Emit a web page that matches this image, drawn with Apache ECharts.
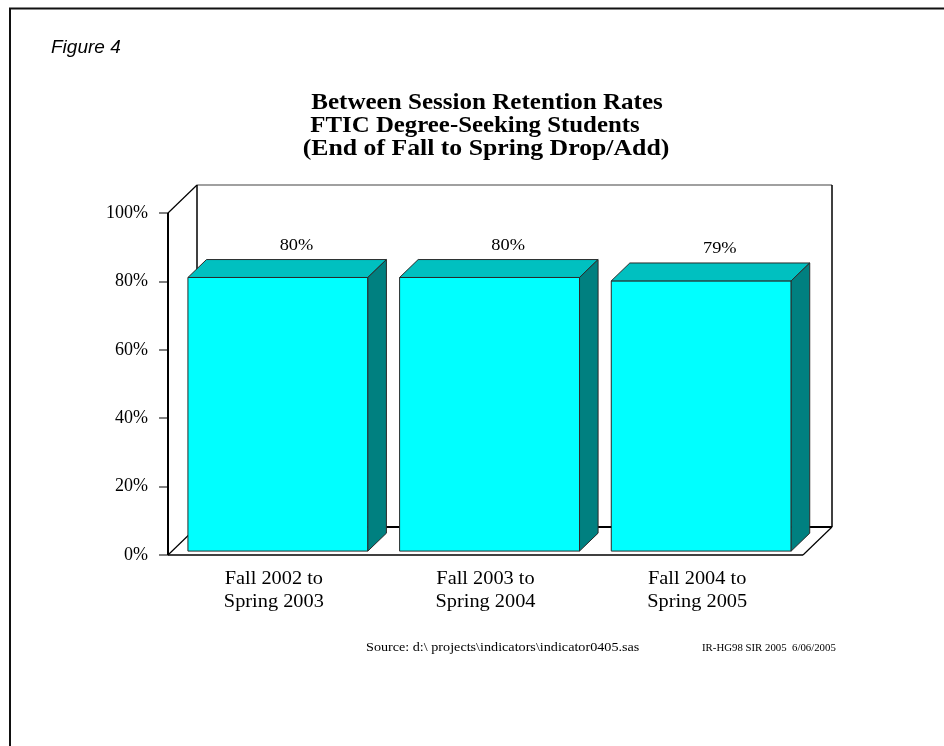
<!DOCTYPE html>
<html>
<head>
<meta charset="utf-8">
<script src="https://cdn.jsdelivr.net/npm/echarts@6/dist/echarts.min.js"></script>
<style>
  html, body { margin: 0; padding: 0; background: #fff; }
  #chart { width: 944px; height: 746px; }
</style>
</head>
<body>
<div id="chart"></div>
<script>
// Retention rates per period
const categories = ['Fall 2002 to\nSpring 2003', 'Fall 2003 to\nSpring 2004', 'Fall 2004 to\nSpring 2005'];
const retention = [80, 80, 79];
const yTicks = [0, 20, 40, 60, 80, 100];

const titleLines = ['Between Session Retention Rates', 'FTIC Degree-Seeking Students', '(End of Fall to Spring Drop/Add)'];
const figureLabel = 'Figure 4';
const sourceNote = 'Source: d:\\ projects\\indicators\\indicator0405.sas';
const stampNote = 'IR-HG98 SIR 2005  6/06/2005';

// 3D projection: depth vector of the chart box and the bar slab inside it
const DEPTH = [29, -28];
const BAR_FRONT = 0.14, BAR_BACK = 0.78;
const BAR_RATIO = 0.85;
const SERIF = '"Liberation Serif", "Times New Roman", serif';
const SANS = '"Liberation Sans", Arial, sans-serif';

const chart = echarts.init(document.getElementById('chart'), null, { renderer: 'canvas' });

function walls(params, api) {
  const band = api.size([1, 0])[0];
  const n = categories.length;
  const x0 = api.coord([0, 0])[0] - band / 2;
  const x1 = api.coord([n - 1, 0])[0] + band / 2;
  const yb = api.coord([0, 0])[1];
  const yt = api.coord([0, yTicks[yTicks.length - 1]])[1];
  const dx = DEPTH[0], dy = DEPTH[1];
  const line = (a, b, color, w) => ({
    type: 'line',
    shape: { x1: a[0], y1: a[1], x2: b[0], y2: b[1] },
    style: { stroke: color, lineWidth: w }
  });
  return {
    type: 'group',
    children: [
      line([x0 + dx, yt + dy], [x1 + dx, yt + dy], '#808080', 1.5),
      line([x0 + dx, yt + dy], [x0 + dx, yb + dy], '#000', 1.5),
      line([x1 + dx, yt + dy], [x1 + dx, yb + dy], '#000', 1.5),
      line([x0, yt], [x0 + dx, yt + dy], '#000', 1.2),
      line([x0 + dx, yb + dy], [x1 + dx, yb + dy], '#000', 2.2),
      line([x0, yb], [x0 + dx, yb + dy], '#000', 1.2),
      line([x1, yb], [x1 + dx, yb + dy], '#000', 1.2),
      line([x0, yb], [x1, yb], '#000', 1.5),
      line([x0, yt], [x0, yb], '#000', 2)
    ]
  };
}

function bar3d(params, api) {
  const idx = api.value(0);
  const val = api.value(1);
  const band = api.size([1, 0])[0];
  const w = band * BAR_RATIO;
  const top = api.coord([idx, val]);
  const base = api.coord([idx, 0]);
  const fx = DEPTH[0] * BAR_FRONT, fy = DEPTH[1] * BAR_FRONT;
  const bx = DEPTH[0] * BAR_BACK, by = DEPTH[1] * BAR_BACK;
  const l = top[0] - w / 2 + fx, r = top[0] + w / 2 + fx;
  const t = top[1] + fy, b = base[1] + fy;
  const sx = bx - fx, sy = by - fy;
  const edge = { stroke: '#2a2a2a', lineWidth: 1, lineJoin: 'round' };
  return {
    type: 'group',
    children: [
      { type: 'polygon', shape: { points: [[l, b], [r, b], [r, t], [l, t]] },
        style: Object.assign({ fill: '#00ffff' }, edge) },
      { type: 'polygon', shape: { points: [[l, t], [r, t], [r + sx, t + sy], [l + sx, t + sy]] },
        style: Object.assign({ fill: '#00c0c0' }, edge) },
      { type: 'polygon', shape: { points: [[r, t], [r, b], [r + sx, b + sy], [r + sx, t + sy]] },
        style: Object.assign({ fill: '#008080' }, edge) },
      { type: 'text', x: (l + r) / 2 + sx, y: t + sy - 14, scaleX: 1.08,
        style: { text: val + '%', align: 'center', verticalAlign: 'middle',
                 font: '17px ' + SERIF, fill: '#000' } },
      // category label under the bar
      { type: 'text', x: base[0], y: base[1] + 13, scaleX: 1.13,
        style: { text: categories[idx], align: 'center', verticalAlign: 'top',
                 font: '18px ' + SERIF, lineHeight: 23, fill: '#000' } }
    ]
  };
}

function headText(text, x, y, font, align, sx) {
  return { type: 'text', x: x, y: y, scaleX: sx, silent: true,
           style: { text: text, font: font, align: align, verticalAlign: 'middle', fill: '#000' } };
}

const titleFont = 'bold 23px ' + SERIF;

chart.setOption({
  animation: false,
  backgroundColor: '#fff',
  graphic: [
    { type: 'polyline', silent: true,
      shape: { points: [[10, 746], [10, 8.5], [944, 8.5]] },
      style: { stroke: '#111', lineWidth: 2, fill: null } },
    headText(figureLabel, 51, 48, 'italic 19px ' + SANS, 'left', 1),
    headText(titleLines[0], 487, 103, titleFont, 'center', 1.09),
    headText(titleLines[1], 475, 126, titleFont, 'center', 1.08),
    headText(titleLines[2], 486, 149, titleFont, 'center', 1.12),
    headText(sourceNote, 366, 648, '12px ' + SERIF, 'left', 1.18),
    headText(stampNote, 702, 648, '10px ' + SERIF, 'left', 1.08)
  ],
  grid: { left: 168, right: 141, top: 213, bottom: 191, containLabel: false },
  xAxis: {
    type: 'category',
    data: categories,
    axisLine: { show: false },
    axisTick: { show: false },
    splitLine: { show: false },
    axisLabel: { show: false }
  },
  yAxis: {
    type: 'value',
    min: yTicks[0],
    max: yTicks[yTicks.length - 1],
    interval: yTicks[1] - yTicks[0],
    axisLine: { show: false },
    axisTick: { show: true, length: 9, lineStyle: { color: '#555', width: 1.5 } },
    splitLine: { show: false },
    axisLabel: { formatter: '{value}%', margin: 20, fontFamily: SERIF, fontSize: 18, color: '#000' }
  },
  series: [
    { type: 'custom', renderItem: walls, data: [[0, 0]], silent: true, z: 1 },
    { type: 'custom', renderItem: bar3d, z: 2,
      data: retention.map((v, i) => [i, v]) }
  ]
});
</script>
</body>
</html>
